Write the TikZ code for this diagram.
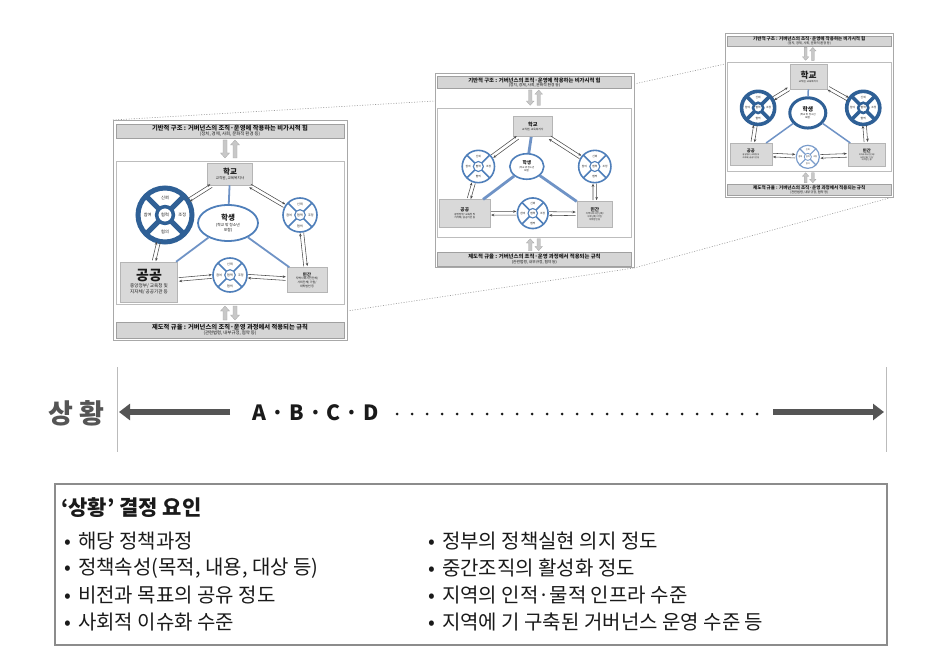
\documentclass[tikz,border=0pt]{standalone}
\usepackage{fontspec}
\setmainfont{Noto Sans CJK KR}
\usetikzlibrary{shapes.geometric,arrows.meta,calc}

\definecolor{barfill}{HTML}{D5D5D5}
\definecolor{barline}{HTML}{A0A0A0}
\definecolor{framec}{HTML}{A8A8A8}
\definecolor{innerc}{HTML}{BDBDBD}
\definecolor{boxfill}{HTML}{D9D9D9}
\definecolor{boxline}{HTML}{B5B5B5}
\definecolor{wdark}{HTML}{2F6096}
\definecolor{wmid}{HTML}{4F7FBA}
\definecolor{wlight}{HTML}{7A9CCB}
\definecolor{bline}{HTML}{6F93C6}
\definecolor{garrc}{HTML}{4A4A4A}
\definecolor{blockc}{HTML}{C8C8C8}
\definecolor{blockl}{HTML}{A8A8A8}
\definecolor{zoomc}{HTML}{9A9A9A}
\definecolor{vlinec}{HTML}{BBBBBB}
\definecolor{darkg}{HTML}{555555}
\definecolor{txt}{HTML}{1A1A1A}
\definecolor{fborder}{HTML}{8C8C8C}

\newcommand\fz[2]{\fontsize{#1}{#2}\selectfont}

\tikzset{
 framebox/.style={draw=framec, line width=0.6pt, fill=white, inner sep=0pt, outer sep=0pt},
 innerbox/.style={draw=innerc, line width=0.5pt, fill=white, inner sep=0pt, outer sep=0pt},
 barbox/.style={draw=barline, line width=0.5pt, fill=barfill, inner sep=0pt, align=center, text=txt},
 graybox/.style={draw=boxline, line width=0.5pt, fill=boxfill, inner sep=0pt, align=center, text=txt},
 garr/.style={draw=garrc, line width=0.55pt, -{Stealth[length=3.2pt,width=2.6pt]}, shorten <=1pt, shorten >=1pt},
 bluel/.style={draw=bline, line width=#1},
 blockar/.style={fill=blockc, draw=blockl, line width=0.3pt},
 zoomline/.style={draw=zoomc, line width=0.6pt, dash pattern=on 1pt off 1.6pt},
 vline/.style={draw=vlinec, line width=0.8pt},
 bigarr/.style={draw=darkg, line width=6pt, -{Triangle[length=11pt,width=16pt]}},
 dotline/.style={draw=txt, line width=3pt, line cap=round, dash pattern=on 0pt off 15pt},
 item/.style={anchor=west, inner sep=0pt, text=txt, font=\fz{20}{20}},
}

% block arrows: #1 centre x, #2 top y, #3 bottom y
\newcommand\blockdn[3]{\filldraw[blockar] ({#1-2},#2) -- ({#1+2},#2) -- ({#1+2},{#3-5}) -- ({#1+4.5},{#3-5}) -- (#1,#3) -- ({#1-4.5},{#3-5}) -- ({#1-2},{#3-5}) -- cycle;}
\newcommand\blockup[3]{\filldraw[blockar] ({#1-2},#3) -- ({#1+2},#3) -- ({#1+2},{#2+5}) -- ({#1+4.5},{#2+5}) -- (#1,#2) -- ({#1-4.5},{#2+5}) -- ({#1-2},{#2+5}) -- cycle;}

% wheel: name, x, y, r, ring width, colour, font size
\newcommand\wheelx[7]{%
 \pgfmathsetmacro\whd{2*#4}%
 \pgfmathsetmacro\whi{0.62*#4}%
 \pgfmathsetmacro\whl{0.64*#4}%
 \pgfmathsetmacro\whlw{0.7*#5}%
 \pgfmathsetmacro\whN{#3-\whl}%
 \pgfmathsetmacro\whS{#3+\whl}%
 \pgfmathsetmacro\whW{#2-\whl}%
 \pgfmathsetmacro\whE{#2+\whl}%
 \node[circle, draw=#6, line width=#5pt, fill=white, minimum size=\whd pt, inner sep=0pt, outer sep=0pt] (#1) at (#2,#3) {};
 \node[circle, draw=#6, line width=\whlw pt, fill=white, minimum size=\whi pt, inner sep=0pt, outer sep=0pt, font=\fz{#7}{#7}, text=txt] (#1-c) at (#2,#3) {협력};
 \foreach \wa in {45,135,225,315}{\draw[draw=#6, line width=#5pt] (#1-c.\wa) -- (#1.\wa);}
 \node[inner sep=0pt, font=\fz{#7}{#7}, text=txt] (#1-n) at (#2,\whN) {신뢰};
 \node[inner sep=0pt, font=\fz{#7}{#7}, text=txt] (#1-s) at (#2,\whS) {협의};
 \node[inner sep=0pt, font=\fz{#7}{#7}, text=txt] (#1-w) at (\whW,#3) {참여};
 \node[inner sep=0pt, font=\fz{#7}{#7}, text=txt] (#1-e) at (\whE,#3) {조정};
}

% pair of opposite arrows between two nodes: names, then centre coordinates
\newcommand\pairarr[6]{%
 \pgfmathsetmacro\zzdx{#5-#3}%
 \pgfmathsetmacro\zzdy{#6-#4}%
 \pgfmathsetmacro\zzl{sqrt((\zzdx)*(\zzdx)+(\zzdy)*(\zzdy))}%
 \pgfmathsetmacro\zzox{(\zzdy)/\zzl*1.8}%
 \pgfmathsetmacro\zzoy{(\zzdx)/\zzl*1.8}%
 \pgfmathsetmacro\zzoxn{0-(\zzox)}%
 \pgfmathsetmacro\zzoyn{0-(\zzoy)}%
 \draw[garr, transform canvas={shift={(\zzox pt,\zzoy pt)}}] (#1) -- (#2);
 \draw[garr, transform canvas={shift={(\zzoxn pt,\zzoyn pt)}}] (#2) -- (#1);}

\newcommand\varA{%
 \def\gFH{220}\def\gBLW{1.8}%
 \def\gSx{117}\def\gSy{54}\def\gSW{45}\def\gSH{22}\def\gSf{7.5}\def\gSsf{3.6}%
 \def\gTx{115}\def\gTy{103}\def\gTW{60}\def\gTH{36}\def\gTlw{1.8}\def\gTc{wmid}\def\gTf{7.5}\def\gTsf{3.8}%
 \def\gPx{36}\def\gPy{162}\def\gPW{57}\def\gPH{40}\def\gPf{14}\def\gPsf{4.6}%
 \def\gRx{194}\def\gRy{160}\def\gRW{40}\def\gRH{25}\def\gRf{4.4}\def\gRsf{2.9}%
 \def\gLx{52}\def\gLy{95}\def\gLr{27}\def\gLlw{5}\def\gLc{wdark}\def\gLf{4.2}%
 \def\gQx{187}\def\gQy{95}\def\gQr{17}\def\gQlw{1.6}\def\gQc{wmid}\def\gQf{3}%
 \def\gBx{117}\def\gBy{155}\def\gBr{17}\def\gBlw{1.6}\def\gBc{wmid}\def\gBf{3}}
\newcommand\varB{%
 \def\gFH{229}\def\gBLW{2.8}%
 \def\gSx{115}\def\gSy{63}\def\gSW{46}\def\gSH{24}\def\gSf{6}\def\gSsf{3.2}%
 \def\gTx{108}\def\gTy{110}\def\gTW{40}\def\gTH{30}\def\gTlw{1.6}\def\gTc{wmid}\def\gTf{5.5}\def\gTsf{2.8}%
 \def\gPx{35}\def\gPy{165}\def\gPW{59}\def\gPH{32}\def\gPf{5.5}\def\gPsf{3}%
 \def\gRx{188}\def\gRy{166}\def\gRW{42}\def\gRH{30}\def\gRf{5.5}\def\gRsf{2.7}%
 \def\gLx{51}\def\gLy{110}\def\gLr{19}\def\gLlw{1.6}\def\gLc{wmid}\def\gLf{3.2}%
 \def\gQx{188}\def\gQy{110}\def\gQr{19}\def\gQlw{1.6}\def\gQc{wmid}\def\gQf{3.2}%
 \def\gBx{115}\def\gBy{165}\def\gBr{18}\def\gBlw{1.6}\def\gBc{wmid}\def\gBf{3.2}}
\newcommand\varC{%
 \def\gFH{228}\def\gBLW{1.5}%
 \def\gSx{116}\def\gSy{61}\def\gSW{52}\def\gSH{34}\def\gSf{12}\def\gSsf{3.4}%
 \def\gTx{115}\def\gTy{111}\def\gTW{50}\def\gTH{42}\def\gTlw{3}\def\gTc{wdark}\def\gTf{8}\def\gTsf{3.4}%
 \def\gPx{36}\def\gPy{168}\def\gPW{58}\def\gPH{30}\def\gPf{6}\def\gPsf{2.8}%
 \def\gRx{197}\def\gRy{169}\def\gRW{52}\def\gRH{32}\def\gRf{6}\def\gRsf{2.8}%
 \def\gLx{46}\def\gLy{104}\def\gLr{23}\def\gLlw{3.6}\def\gLc{wdark}\def\gLf{3.8}%
 \def\gQx{192}\def\gQy{104}\def\gQr{23}\def\gQlw{3.6}\def\gQc{wdark}\def\gQf{3.8}%
 \def\gBx{115}\def\gBy{172}\def\gBr{16}\def\gBlw{1.2}\def\gBc{wlight}\def\gBf{2.8}}

% governance diagram: prefix, x, y, scale, variant
\newcommand\govdiag[5]{%
 #5%
 \pgfmathsetmacro\innc{(41+\gFH-36)/2}%
 \pgfmathsetmacro\innh{\gFH-77}%
 \pgfmathsetmacro\fhalf{\gFH/2}%
 \pgfmathsetmacro\bbar{\gFH-10}%
 \pgfmathsetmacro\bya{\gFH-34}%
 \pgfmathsetmacro\byb{\gFH-20}%
 \begin{scope}[shift={(#2,#3)}, scale=#4, transform shape]
  \node[framebox, minimum width=234pt, minimum height=\gFH pt] (#1-frame) at (117,\fhalf) {};
  \node[barbox, minimum width=228pt, minimum height=14pt, font=\fz{4.4}{5}] (#1-top) at (117,11)
   {{\fz{6.3}{6.8}\bfseries 기반적 구조 : 거버넌스의 조직·운영에 작용하는 비가시적 힘}\\(정치, 경제, 사회, 문화적 환경 등)};
  \node[innerbox, minimum width=228pt, minimum height=\innh pt] (#1-inner) at (117,\innc) {};
  \node[barbox, minimum width=228pt, minimum height=16pt, font=\fz{4.4}{5}] (#1-bot) at (117,\bbar)
   {{\fz{6.3}{6.8}\bfseries 제도적 규율 : 거버넌스의 조직·운영 과정에서 적용되는 규칙}\\(관련법령, 내부규정, 협약 등)};
  \blockdn{112}{20}{38}\blockup{122}{20}{38}
  \blockup{112}{\bya}{\byb}\blockdn{122}{\bya}{\byb}
  \node[graybox, minimum width=\gSW pt, minimum height=\gSH pt, font=\fz{\gSsf}{\gSsf}] (#1-school) at (\gSx,\gSy)
   {{\fz{\gSf}{\gSf}\bfseries 학교}\\[0.8pt]교직원, 교육복지사};
  \node[ellipse, draw=\gTc, line width=\gTlw pt, fill=white, inner sep=0pt, minimum width=\gTW pt, minimum height=\gTH pt, align=center, text=txt, font=\fz{\gTsf}{\gTsf}] (#1-student) at (\gTx,\gTy)
   {{\fz{\gTf}{\gTf}\bfseries 학생}\\[0.8pt](학교 밖 청소년\\포함)};
  \node[graybox, minimum width=\gPW pt, minimum height=\gPH pt, font=\fz{\gPsf}{\gPsf}] (#1-public) at (\gPx,\gPy)
   {{\fz{\gPf}{\gPf}\bfseries 공공}\\[1pt]중앙정부/ 교육청 및\\지자체/ 공공기관 등};
  \node[graybox, minimum width=\gRW pt, minimum height=\gRH pt, font=\fz{\gRsf}{\gRsf}] (#1-private) at (\gRx,\gRy)
   {{\fz{\gRf}{\gRf}\bfseries 민간}\\[0.6pt]지역사회시민단체/\\사회단체/ 기업/\\대학법인 등};
  \wheelx{#1-lw}{\gLx}{\gLy}{\gLr}{\gLlw}{\gLc}{\gLf}
  \wheelx{#1-rw}{\gQx}{\gQy}{\gQr}{\gQlw}{\gQc}{\gQf}
  \wheelx{#1-bw}{\gBx}{\gBy}{\gBr}{\gBlw}{\gBc}{\gBf}
  \draw[bluel=\gBLW pt] (#1-school) -- (#1-student);
  \draw[bluel=\gBLW pt] (#1-student) -- (#1-public);
  \draw[bluel=\gBLW pt] (#1-student) -- (#1-private);
  \pairarr{#1-lw}{#1-school}{\gLx}{\gLy}{\gSx}{\gSy}
  \pairarr{#1-school}{#1-rw}{\gSx}{\gSy}{\gQx}{\gQy}
  \pairarr{#1-lw}{#1-public}{\gLx}{\gLy}{\gPx}{\gPy}
  \pairarr{#1-rw}{#1-private}{\gQx}{\gQy}{\gRx}{\gRy}
  \pairarr{#1-public}{#1-bw}{\gPx}{\gPy}{\gBx}{\gBy}
  \pairarr{#1-bw}{#1-private}{\gBx}{\gBy}{\gRx}{\gRy}
 \end{scope}}

\begin{document}
\begin{tikzpicture}[x=1pt,y=-1pt]
\path[fill=white, use as bounding box] (0,0) rectangle (929,655);

% zoom guide lines
\coordinate (z1a) at (113,120); \coordinate (z1b) at (435,101);
\coordinate (z2a) at (347,311); \coordinate (z2b) at (634,268);
\coordinate (z3a) at (634,84);  \coordinate (z3b) at (725,64);
\coordinate (z4a) at (634,268); \coordinate (z4b) at (893,197);
\draw[zoomline] (z1a) -- (z1b);
\draw[zoomline] (z2a) -- (z2b);
\draw[zoomline] (z3a) -- (z3b);
\draw[zoomline] (z4a) -- (z4b);

% the three diagrams
\govdiag{da}{113}{120}{1}{\varA}
\govdiag{db}{435}{73}{0.85}{\varB}
\govdiag{dc}{725}{33}{0.72}{\varC}

% situation axis
\node[font=\fz{27}{27}\bfseries, text=darkg, inner sep=0pt] (sit) at (76,413) {상 황};
\coordinate (vl1) at (117,367); \coordinate (vl2) at (117,452);
\coordinate (vr1) at (886,367); \coordinate (vr2) at (886,452);
\draw[vline] (vl1) -- (vl2);
\draw[vline] (vr1) -- (vr2);
\coordinate (la1) at (230,412); \coordinate (la2) at (119,412);
\draw[bigarr] (la1) -- (la2);
\node[font=\fz{21}{21}\bfseries, text=txt, inner sep=0pt] (abcd) at (316,413) {A\hspace{5pt}·\hspace{5pt}B\hspace{5pt}·\hspace{5pt}C\hspace{5pt}·\hspace{5pt}D};
\coordinate (dt1) at (397,414); \coordinate (dt2) at (757,414);
\draw[dotline] (dt1) -- (dt2);
\coordinate (ra1) at (773,412); \coordinate (ra2) at (884,412);
\draw[bigarr] (ra1) -- (ra2);

% factors box
\node[draw=fborder, line width=1.3pt, minimum width=832pt, minimum height=161pt, inner sep=0pt] (factors) at (471,564.5) {};
\node[anchor=west, inner sep=0pt, text=txt, font=\fz{21}{21}\bfseries] (ftitle) at (61,508) {‘상황’ 결정 요인};
\node[item] (l1) at (64,541) {•\hspace{7pt}해당 정책과정};
\node[item] (l2) at (64,568) {•\hspace{7pt}정책속성(목적, 내용, 대상 등)};
\node[item] (l3) at (64,595) {•\hspace{7pt}비전과 목표의 공유 정도};
\node[item] (l4) at (64,622) {•\hspace{7pt}사회적 이슈화 수준};
\node[item] (r1) at (428,541) {•\hspace{7pt}정부의 정책실현 의지 정도};
\node[item] (r2) at (428,568) {•\hspace{7pt}중간조직의 활성화 정도};
\node[item] (r3) at (428,595) {•\hspace{7pt}지역의 인적·물적 인프라 수준};
\node[item] (r4) at (428,622) {•\hspace{7pt}지역에 기 구축된 거버넌스 운영 수준 등};
\end{tikzpicture}
\end{document}
